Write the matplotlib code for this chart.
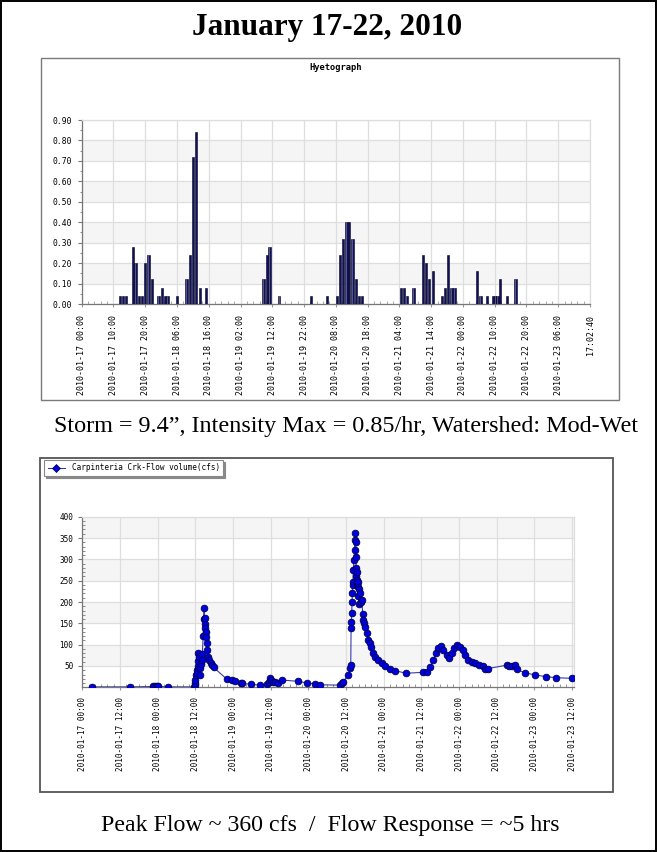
import matplotlib
matplotlib.use("Agg")
import matplotlib.pyplot as plt
from matplotlib.patches import Rectangle
from matplotlib.lines import Line2D
from matplotlib.ticker import MultipleLocator
import numpy as np

W, H = 657, 852

# ---- Hyetograph: hourly rainfall (hours after 2010-01-17 00:00, inches) ----
rain_hours = [12, 13, 14, 16.2, 16.9, 18, 19, 20, 21, 22.1, 24.2, 25.2, 26.2, 27,
              30, 33, 34.1, 35.1, 36, 37.3, 39.1, 57.2, 58.3, 59.1, 62.2, 72.2,
              77.3, 80.4, 81.3, 82.3, 83.3, 84.2, 85.3, 86.3, 87.3, 88.3,
              100.5, 101.5, 102.3, 104.4, 107.5, 108.4, 109.4, 110.5, 113.4,
              114.4, 115.3, 116.4, 117.4, 124.5, 125.5, 127.5, 129.5, 130.3,
              130.9, 131.7, 133.8, 136.6]
rain_inches = [0.04, 0.04, 0.04, 0.28, 0.20, 0.04, 0.04, 0.20, 0.24, 0.12, 0.04, 0.08, 0.04, 0.04,
               0.04, 0.12, 0.24, 0.72, 0.84, 0.08, 0.08, 0.12, 0.24, 0.28, 0.04, 0.04,
               0.04, 0.04, 0.24, 0.32, 0.40, 0.40, 0.32, 0.12, 0.04, 0.04,
               0.08, 0.08, 0.04, 0.08, 0.24, 0.20, 0.12, 0.16, 0.04,
               0.08, 0.24, 0.08, 0.08, 0.16, 0.04, 0.04, 0.04, 0.04,
               0.04, 0.12, 0.04, 0.12]
hyeto_ticks = list(range(0, 161, 10))
hyeto_tick_labels = ["2010-01-17 00:00", "2010-01-17 10:00", "2010-01-17 20:00",
                     "2010-01-18 06:00", "2010-01-18 16:00", "2010-01-19 02:00",
                     "2010-01-19 12:00", "2010-01-19 22:00", "2010-01-20 08:00",
                     "2010-01-20 18:00", "2010-01-21 04:00", "2010-01-21 14:00",
                     "2010-01-22 00:00", "2010-01-22 10:00", "2010-01-22 20:00",
                     "2010-01-23 06:00", "17:02:40"]
rain_yticks = [0.0, 0.1, 0.2, 0.3, 0.4, 0.5, 0.6, 0.7, 0.8, 0.9]

# ---- Carpinteria Creek flow (hours after 2010-01-17 00:00, cfs) ----
flow_hours = [3.0, 15.2, 22.6, 23.2, 23.7, 24.2, 27.2, 35.7,
              35.8, 35.9, 36.0, 36.2, 36.4, 36.6, 36.7, 36.9, 37.0, 37.2, 37.4, 37.6,
              37.8, 38.0, 38.2, 38.5, 38.8, 38.9, 39.0, 39.1, 39.2, 39.3, 39.4, 39.6,
              39.8, 40.1, 40.5, 40.9, 41.3, 41.8, 46.0, 47.6, 48.6, 50.5, 51.0, 53.7,
              56.6, 58.8, 59.3, 59.8, 60.2, 60.6, 61.3, 62.3, 63.5, 68.8, 71.5, 74.1,
              75.7, 82.1, 82.6, 83.1, 84.7, 85.3, 85.5, 85.6, 85.7, 85.8, 85.9, 86.0,
              86.1, 86.2, 86.3, 86.5, 86.7, 86.8, 87.0, 87.1, 87.15, 87.2, 87.3, 87.4,
              87.5, 87.6, 87.7, 87.8, 87.9, 88.1, 88.2, 88.5, 88.7, 89.0, 89.3, 89.5,
              89.8, 90.1, 90.6, 91.1, 91.5, 91.9, 92.5, 93.2, 94.3, 95.4, 96.4, 98.0,
              99.6, 103.1, 108.4, 109.7, 110.8, 111.8, 112.7, 113.4, 114.2, 115.0,
              116.1, 116.9, 117.7, 118.4, 119.3, 120.3, 121.2, 121.9, 123.0, 124.0,
              125.1, 126.2, 127.7, 128.3, 129.3, 135.2, 136.0, 136.8, 137.8, 138.4,
              141.0, 144.2, 147.7, 150.9, 156.1]
flow_cfs = [1, 1, 2, 2, 2, 2, 1, 1,
            5, 10, 18, 30, 40, 33, 50, 62, 80, 70, 45, 30,
            55, 63, 78, 120, 187, 160, 148, 162, 140, 130, 118, 105,
            88, 72, 65, 58, 52, 47, 19, 17, 15, 10, 9, 7,
            5, 8, 12, 22, 17, 13, 12, 11, 17, 14, 10, 8,
            6, 5, 9, 13, 29, 45, 52, 138, 154, 174, 200, 220,
            247, 240, 275, 298, 322, 345, 361, 340, 305, 280, 262, 251,
            270, 240, 215, 248, 236, 195, 230, 220, 200, 205, 173, 158,
            150, 142, 127, 111, 104, 95, 80, 72, 64, 56, 50, 44,
            39, 33, 35, 37, 48, 64, 80, 91, 97, 87,
            76, 68, 80, 91, 99, 95, 87, 76, 64, 60,
            56, 52, 50, 44, 44, 52, 49, 50, 52, 42,
            34, 29, 25, 22.5, 21]
flow_ticks = list(range(0, 157, 12))
flow_tick_labels = ["2010-01-17 00:00", "2010-01-17 12:00", "2010-01-18 00:00",
                    "2010-01-18 12:00", "2010-01-19 00:00", "2010-01-19 12:00",
                    "2010-01-20 00:00", "2010-01-20 12:00", "2010-01-21 00:00",
                    "2010-01-21 12:00", "2010-01-22 00:00", "2010-01-22 12:00",
                    "2010-01-23 00:00", "2010-01-23 12:00"]
flow_yticks = [50, 100, 150, 200, 250, 300, 350, 400]

MONO = "DejaVu Sans Mono"
SERIF = "Liberation Serif"
GRID = "#dedede"
BAND = "#f5f5f5"

fig = plt.figure(figsize=(W / 100, H / 100), dpi=100)
fig.patch.set_facecolor("white")


def px_axes(left, top, right, bottom):
    return fig.add_axes([left / W, 1 - bottom / H, (right - left) / W, (bottom - top) / H])


def px_frame(left, top, right, bottom, color, lw):
    fig.add_artist(Rectangle((left / W, 1 - bottom / H), (right - left) / W, (bottom - top) / H,
                             transform=fig.transFigure, fill=False, edgecolor=color, linewidth=lw))


# page border and panel frames
px_frame(0.8, 0.8, W - 0.8, H - 0.8, "black", 1.4)
px_frame(41, 58, 619, 400, "#7a7a7a", 1.0)
px_frame(40, 458, 613, 792, "#555555", 1.3)

# headings
fig.text(327 / W, 1 - 28 / H, "January 17-22, 2010", family=SERIF, weight="bold",
         fontsize=22.5, ha="center", va="center")
fig.text(346 / W, 1 - 427 / H, "Storm = 9.4\u201d, Intensity Max = 0.85/hr, Watershed: Mod-Wet",
         family=SERIF, fontsize=17.4, ha="center", va="center")
fig.text(330 / W, 1 - 826 / H, "Peak Flow ~ 360 cfs  /  Flow Response = ~5 hrs",
         family=SERIF, fontsize=17.2, ha="center", va="center")


def style_axes(ax):
    ax.set_facecolor("white")
    ax.grid(True, which="major", color=GRID, linewidth=0.9)
    ax.set_axisbelow(True)
    for side in ("top", "right"):
        ax.spines[side].set_color(GRID)
        ax.spines[side].set_linewidth(0.9)
    for side in ("left", "bottom"):
        ax.spines[side].set_color("#777777")
        ax.spines[side].set_linewidth(0.9)


# ---------------- Hyetograph ----------------
ax1 = px_axes(81.7, 120, 590, 304)
style_axes(ax1)
for lo in (0.1, 0.3, 0.5, 0.7):
    ax1.axhspan(lo, lo + 0.1, color=BAND, zorder=0, linewidth=0)
ax1.bar(rain_hours, rain_inches, width=0.75, color="#10105e", edgecolor="#03031f",
        linewidth=0.4, zorder=3)
ax1.bar(rain_hours, rain_inches, width=0.14, color="#55558a", linewidth=0, zorder=4)
ax1.set_xlim(0, 160)
ax1.set_ylim(0, 0.9)
ax1.set_xticks(hyeto_ticks)
ax1.set_xticklabels(hyeto_tick_labels, rotation=90, fontfamily=MONO, fontsize=6.0)
ax1.xaxis.set_minor_locator(MultipleLocator(2))
ax1.tick_params(axis="x", which="major", direction="out", length=2, color="#999999", pad=6)
ax1.tick_params(axis="x", which="minor", direction="in", length=2.5, color="#999999")
ax1.set_yticks(rain_yticks)
ax1.set_yticklabels([f"{v:.2f}" for v in rain_yticks], fontfamily=MONO, fontsize=5.8)
ax1.yaxis.set_minor_locator(MultipleLocator(0.05))
ax1.tick_params(axis="y", which="major", direction="out", length=3, color="#777777", pad=4)
ax1.tick_params(axis="y", which="minor", direction="out", length=1.8, color="#777777")
fig.text(336 / W, 1 - 67.5 / H, "Hyetograph", family=MONO, weight="bold", fontsize=6.3,
         ha="center", va="center")

# ---------------- Flow ----------------
ax2 = px_axes(81.7, 516.7, 574.3, 687.3)
style_axes(ax2)
for lo in (50, 150, 250, 350):
    ax2.axhspan(lo, lo + 50, color=BAND, zorder=0, linewidth=0)
ax2.plot(flow_hours, flow_cfs, color="#3b3ba8", linewidth=0.8, marker="o", markersize=4.8,
         markerfacecolor="#0000dd", markeredgecolor="#000050", markeredgewidth=0.6, zorder=3)
ax2.set_xlim(-0.2, 156.7)
ax2.set_ylim(0, 400)
ax2.set_xticks(flow_ticks)
ax2.set_xticklabels(flow_tick_labels, rotation=90, fontfamily=MONO, fontsize=5.5)
ax2.xaxis.set_minor_locator(MultipleLocator(2))
ax2.tick_params(axis="x", which="major", direction="out", length=2, color="#999999", pad=5)
ax2.tick_params(axis="x", which="minor", direction="in", length=2.5, color="#888888")
ax2.set_yticks(flow_yticks)
ax2.set_yticklabels([str(v) for v in flow_yticks], fontfamily=MONO, fontsize=5.5)
ax2.yaxis.set_minor_locator(MultipleLocator(10))
ax2.tick_params(axis="y", which="major", direction="out", length=3, color="#777777", pad=3)
ax2.tick_params(axis="y", which="minor", direction="in", length=1.8, color="#777777")

handle = Line2D([], [], color="#3b3ba8", linewidth=0.8, marker="D", markersize=3.8,
                markerfacecolor="#0000dd", markeredgecolor="#000050", markeredgewidth=0.5)
leg = fig.legend([handle], ["Carpinteria Crk-Flow volume(cfs)"], loc="upper left",
                 bbox_to_anchor=(44 / W, 1 - 460 / H), prop={"family": MONO, "size": 5.6},
                 frameon=True, fancybox=False,
                 shadow={"color": "#8a8a8a", "alpha": 1.0, "ox": 1.5, "oy": -1.5},
                 edgecolor="#888888", borderpad=0.45, handlelength=2.2, handletextpad=0.9,
                 borderaxespad=0)
leg.get_frame().set_linewidth(0.8)
leg.get_frame().set_alpha(1.0)

fig.savefig("out.png", dpi=100)
